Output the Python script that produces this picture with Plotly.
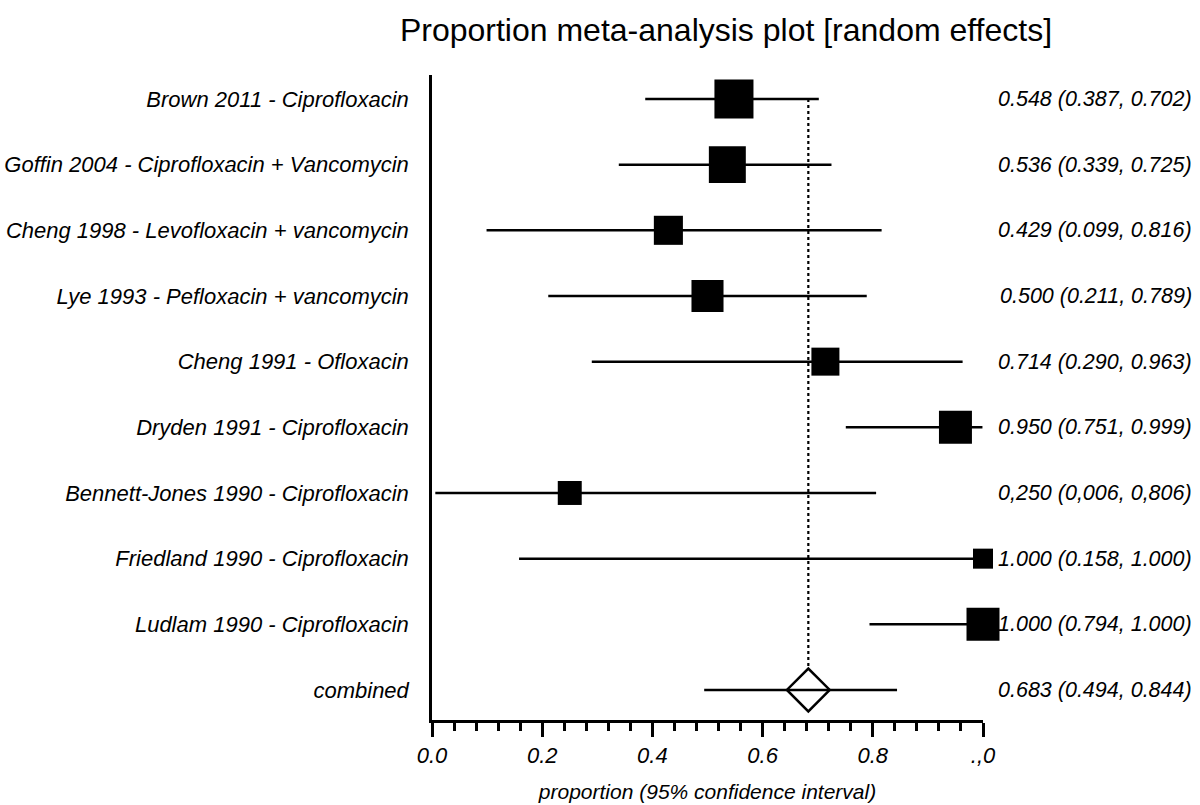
import plotly.graph_objects as go

C_INK = '#000000'
FONT = 'Liberation Sans, Arial, sans-serif'

studies = [
    'Brown 2011 - Ciprofloxacin',
    'Goffin 2004 - Ciprofloxacin + Vancomycin',
    'Cheng 1998 - Levofloxacin + vancomycin',
    'Lye 1993 - Pefloxacin + vancomycin',
    'Cheng 1991 - Ofloxacin',
    'Dryden 1991 - Ciprofloxacin',
    'Bennett-Jones 1990 - Ciprofloxacin',
    'Friedland 1990 - Ciprofloxacin',
    'Ludlam 1990 - Ciprofloxacin',
]
proportion = [0.548, 0.536, 0.429, 0.500, 0.714, 0.950, 0.250, 1.000, 1.000]
ci_low = [0.387, 0.339, 0.099, 0.211, 0.290, 0.751, 0.006, 0.158, 0.794]
ci_high = [0.702, 0.725, 0.816, 0.789, 0.963, 0.999, 0.806, 1.000, 1.000]
weight_pct = [17.5, 15.7, 9.7, 11.8, 9.0, 12.5, 6.6, 4.6, 12.5]
value_text = [
    '0.548 (0.387, 0.702)',
    '0.536 (0.339, 0.725)',
    '0.429 (0.099, 0.816)',
    '0.500 (0.211, 0.789)',
    '0.714 (0.290, 0.963)',
    '0.950 (0.751, 0.999)',
    '0,250 (0,006, 0,806)',
    '1.000 (0.158, 1.000)',
    '1.000 (0.794, 1.000)',
]

pooled_label = 'combined'
pooled = 0.683
pooled_low = 0.494
pooled_high = 0.844
pooled_text = '0.683 (0.494, 0.844)'

x_tickvals = [0.0, 0.2, 0.4, 0.6, 0.8, 1.0]
x_ticktext = ['0.0', '0.2', '0.4', '0.6', '0.8', '.,0']

# rows: first study at the top, combined at the bottom (row 0)
n = len(studies)
rows = [n - i for i in range(n)]
labels = studies + [pooled_label]
all_rows = rows + [0]
all_text = value_text + [pooled_text]

ci_x, ci_y = [], []
for lo, hi, r in zip(ci_low + [pooled_low], ci_high + [pooled_high], all_rows):
    ci_x += [lo, hi, None]
    ci_y += [r, r, None]

fig = go.Figure()
fig.add_trace(go.Scatter(
    x=ci_x, y=ci_y, mode='lines',
    line=dict(color=C_INK, width=2.5),
    cliponaxis=False, hoverinfo='skip', showlegend=False,
))
# dotted reference line at the pooled estimate, stops at the diamond's top
fig.add_trace(go.Scatter(
    x=[pooled, pooled], y=[rows[0], 0.33], mode='lines',
    line=dict(color=C_INK, width=2.2, dash='dot'),
    hoverinfo='skip', showlegend=False,
))
fig.add_trace(go.Scatter(
    x=proportion, y=rows, mode='markers',
    marker=dict(symbol='square', color=C_INK, opacity=1,
                size=[9.33 * w ** 0.5 for w in weight_pct],
                line=dict(width=0)),
    cliponaxis=False, showlegend=False,
    hovertemplate='%{x:.3f}<extra></extra>',
))
fig.add_trace(go.Scatter(
    x=[pooled], y=[0], mode='markers',
    marker=dict(symbol='diamond-open', color=C_INK, size=33, opacity=1,
                line=dict(width=2.5, color=C_INK)),
    cliponaxis=False, showlegend=False,
    hovertemplate='%{x:.3f}<extra></extra>',
))

for r, t in zip(all_rows, all_text):
    fig.add_annotation(
        x=1.383, xref='paper', y=r, yref='y', text=t, showarrow=False,
        xanchor='right', yanchor='middle',
        font=dict(family=FONT, size=21.5, color=C_INK, style='italic'),
    )

fig.update_layout(
    width=1200, height=805,
    paper_bgcolor='white', plot_bgcolor='white',
    margin=dict(l=432, r=217, t=75, b=85),
    font=dict(family=FONT, color=C_INK),
    title=dict(text='Proportion meta-analysis plot [random effects]',
               x=0.605, xanchor='center', y=0.963, yanchor='middle',
               font=dict(family=FONT, size=32, color=C_INK)),
    xaxis=dict(
        range=[0, 1], showgrid=False, zeroline=False, automargin=False,
        showline=True, linecolor=C_INK, linewidth=2.5,
        tickvals=x_tickvals, ticktext=x_ticktext,
        ticks='outside', ticklen=14, tickwidth=2.5, tickcolor=C_INK,
        tickfont=dict(family=FONT, size=22, color=C_INK, style='italic'),
        minor=dict(dtick=0.04, tick0=0, ticks='outside', ticklen=8,
                   tickwidth=2.5, tickcolor=C_INK),
        title=dict(text='proportion (95% confidence interval)', standoff=18,
                   font=dict(family=FONT, size=21, color=C_INK, style='italic')),
    ),
    yaxis=dict(
        range=[-0.457, n + 0.365], showgrid=False, zeroline=False,
        automargin=False,
        showline=True, linecolor=C_INK, linewidth=2.5,
        tickvals=all_rows, ticktext=labels, ticks='',
        ticklabelstandoff=16,
        tickfont=dict(family=FONT, size=22, color=C_INK, style='italic'),
    ),
)

fig.write_html('out.html', config={'displayModeBar': False},
               post_script="document.body.style.margin='0';")
